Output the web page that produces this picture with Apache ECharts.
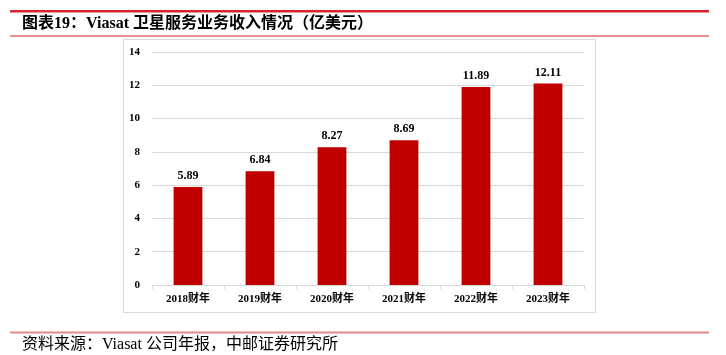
<!DOCTYPE html>
<html>
<head>
<meta charset="utf-8">
<script src="https://cdn.jsdelivr.net/npm/echarts@6/dist/echarts.min.js"></script>
<style>html,body{margin:0;padding:0;background:#fff}#c{width:726px;height:355px}</style>
</head>
<body>
<div id="c"></div>
<script>
const categories = ['2018财年','2019财年','2020财年','2021财年','2022财年','2023财年'];
const revenue = [5.89, 6.84, 8.27, 8.69, 11.89, 12.11];
const yTicks = [0, 2, 4, 6, 8, 10, 12, 14];
const titleText = '图表19：Viasat 卫星服务业务收入情况（亿美元）';
const sourceText = '资料来源：Viasat 公司年报，中邮证券研究所';

const serif = '"Liberation Serif","Times New Roman","Noto Sans CJK SC",serif';
const chart = echarts.init(document.getElementById('c'));
chart.setOption({
  backgroundColor: '#fff',
  animation: false,
  grid: { left: 152, right: 142, top: 52, bottom: 70 },
  xAxis: {
    type: 'category',
    data: categories,
    axisLine: { lineStyle: { color: '#d9d9d9', width: 1 } },
    axisTick: { show: true, length: 4, lineStyle: { color: '#d9d9d9' } },
    axisLabel: { color: '#000', fontFamily: serif, fontWeight: 'bold', fontSize: 11, margin: 9 }
  },
  yAxis: {
    type: 'value',
    min: yTicks[0], max: yTicks[yTicks.length - 1], interval: 2,
    axisLine: { show: false },
    axisTick: { show: false },
    splitLine: { lineStyle: { color: '#d9d9d9', width: 1 } },
    axisLabel: { color: '#000', fontFamily: serif, fontWeight: 'bold', fontSize: 11, margin: 12 }
  },
  series: [{
    type: 'bar',
    data: revenue,
    barWidth: '40%',
    itemStyle: { color: '#c00000' },
    label: {
      show: true, position: 'top', distance: 5,
      color: '#000', fontFamily: serif, fontWeight: 'bold', fontSize: 12,
      formatter: p => p.value.toFixed(2)
    }
  }],
  graphic: [
    { type: 'rect', shape: { x: 10, y: 10, width: 699, height: 2.5 }, style: { fill: '#d7242e' }, silent: true },
    { type: 'text', left: 22, top: 16, style: { text: titleText, fill: '#000', font: 'bold 16px ' + serif } },
    { type: 'rect', shape: { x: 10, y: 35.5, width: 699, height: 1 }, style: { fill: '#d7242e' }, silent: true },
    { type: 'rect', shape: { x: 123.5, y: 39.5, width: 472, height: 273 }, style: { fill: 'none', stroke: '#d9d9d9', lineWidth: 1 }, silent: true, z: -1 },
    { type: 'rect', shape: { x: 10, y: 331.5, width: 699, height: 2 }, style: { fill: '#e38a8a' }, silent: true },
    { type: 'text', left: 22, top: 337, style: { text: sourceText, fill: '#000', font: '16px ' + serif } }
  ]
});
</script>
</body>
</html>
